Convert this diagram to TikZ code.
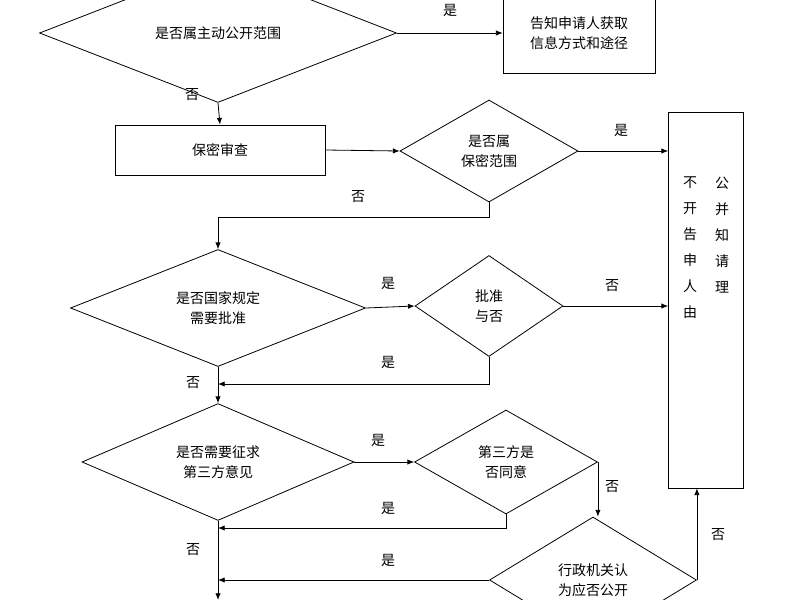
\documentclass[tikz,border=0pt]{standalone}
\usepackage{fontspec}
\setmainfont{Noto Sans CJK SC}
\usetikzlibrary{shapes.geometric,arrows.meta}
\tikzset{
	dia/.style 2 args={diamond,draw,inner sep=0pt,minimum width=#1,minimum height=#2,align=center},
	box/.style={rectangle,draw,align=center},
	arr/.style={-{Latex[length=5pt,width=4pt]}},
	lbl/.style={inner sep=1pt}
}
\begin{document}
\begin{tikzpicture}[x=0.75pt,y=-0.75pt,line width=0.6pt,font=\fontsize{10.5pt}{15pt}\selectfont]
	\useasboundingbox (0,0) rectangle (800,600);
	% decisions
	\node[dia={267.75pt}{58.5pt}] (scope) at (218,33) {是否属主动公开范围};
	\node[dia={133.5pt}{76.5pt}] (secret) at (489,151) {是否属\\保密范围};
	\node[dia={221.25pt}{75pt}] (approve) at (218,308) {是否国家规定\\需要批准};
	\node[dia={111pt}{75.75pt}] (permit) at (489,306) {批准\\与否};
	\node[dia={204pt}{77.25pt}] (third) at (218,462) {是否需要征求\\第三方意见};
	\node[dia={137.25pt}{78pt}] (agree) at (506,462) {第三方是\\否同意};
	\node[dia={155.25pt}{94.5pt}] (organ) at (593,580) {行政机关认\\为应否公开};
	% boxes
	\node[box,minimum width=114pt,minimum height=60pt] (inform) at (579,33) {告知申请人获取\\信息方式和途径};
	\node[box,minimum width=157.5pt,minimum height=37.5pt] (review) at (220,150) {保密审查};
	\node[box,minimum width=56.25pt,minimum height=282pt] (refuse) at (706,300) {};
	\node[anchor=north,align=center,font=\fontsize{10.5pt}{19.5pt}\selectfont] (colA) at (690,172) {不\\开\\告\\申\\人\\由};
	\node[anchor=north,align=center,font=\fontsize{10.5pt}{19.5pt}\selectfont] (colB) at (722,172) {公\\并\\知\\请\\理};
	% free ends
	\coordinate (n1) at (218,217);
	\coordinate (n2) at (218,384);
	\coordinate (n3) at (218,528);
	\coordinate (n4) at (218,580);
	\coordinate (n5) at (218,600);
	% connectors
	\draw[arr] (scope.east) -- (inform.west);
	\draw[arr] (scope.south) -- (review.north);
	\draw[arr] (review.east) -- (secret.west);
	\draw[arr] (secret.east) -- (secret.east -| refuse.west);
	\draw[arr] (secret.south) |- (n1) -- (approve.north);
	\draw[arr] (approve.east) -- (permit.west);
	\draw[arr] (permit.east) -- (permit.east -| refuse.west);
	\draw[arr] (permit.south) |- (n2);
	\draw[arr] (approve.south) -- (third.north);
	\draw[arr] (third.east) -- (agree.west);
	\draw[arr] (agree.south) |- (n3);
	\draw[arr] (agree.east) -- (agree.east |- organ.north);
	\draw[arr] (organ.west) -- (n4);
	\draw[arr] (organ.east) -- (organ.east |- refuse.south);
	\draw[arr] (third.south) -- (n5);
	% labels
	\node[lbl] (l1) at (450,10) {是};
	\node[lbl] (l2) at (192,95) {否};
	\node[lbl] (l3) at (621,130) {是};
	\node[lbl] (l4) at (358,197) {否};
	\node[lbl] (l5) at (388,283) {是};
	\node[lbl] (l6) at (612,286) {否};
	\node[lbl] (l7) at (388,362) {是};
	\node[lbl] (l8) at (193,383) {否};
	\node[lbl] (l9) at (378,440) {是};
	\node[lbl] (l10) at (612,487) {否};
	\node[lbl] (l11) at (388,508) {是};
	\node[lbl] (l12) at (193,550) {否};
	\node[lbl] (l13) at (388,560) {是};
	\node[lbl] (l14) at (718,535) {否};
\end{tikzpicture}
\end{document}
